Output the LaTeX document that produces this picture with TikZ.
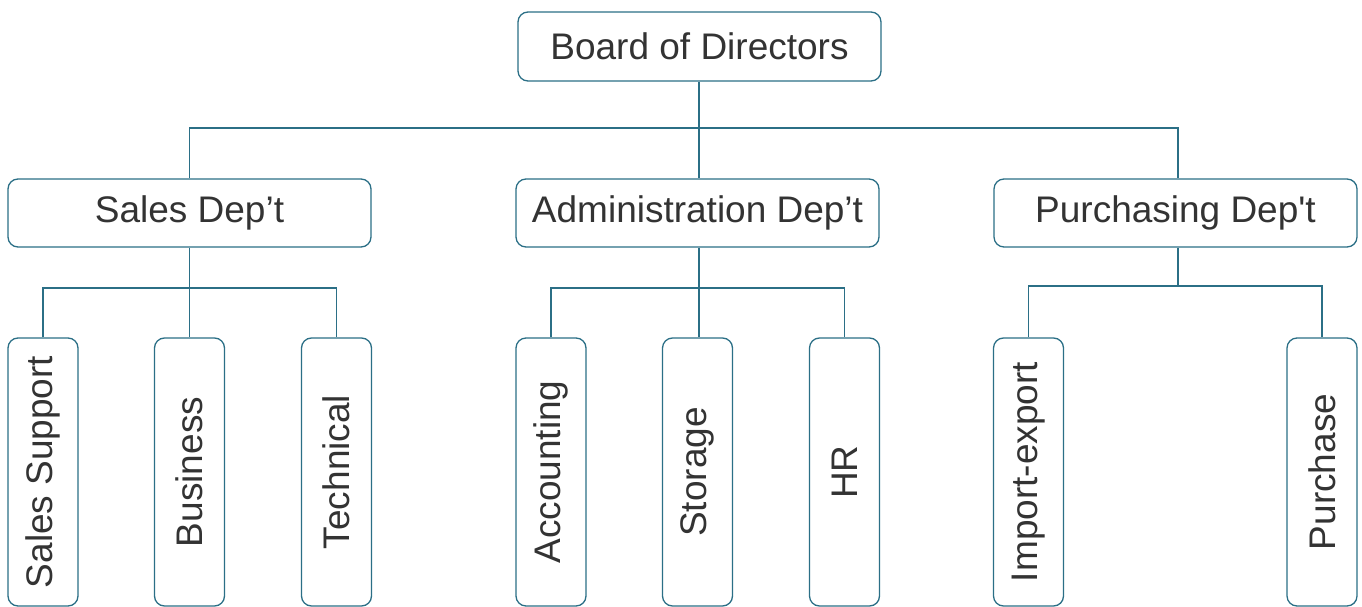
\documentclass[tikz,border=0pt]{standalone}
\usepackage{fontspec}
\setmainfont{Liberation Sans}[Ligatures=TeXOff]
\definecolor{orgline}{HTML}{2B6F86}
\definecolor{orgtext}{HTML}{333333}
\begin{document}
\begin{tikzpicture}[x=1pt,y=-1pt]
	\tikzset{org box/.style={draw=orgline,line width=1.3pt,rounded corners=10pt,fill=white,text=orgtext,
			font=\fontsize{37}{44}\selectfont,inner sep=0pt},
		dept/.style={org box,minimum width=363pt,minimum height=68pt},
		unit/.style={org box,rotate=90,minimum width=268pt,minimum height=70pt},
		link/.style={draw=orgline,line width=1.3pt}}
	\useasboundingbox (0,0) rectangle (1362,607);
	% top level
	\node [dept,minimum height=69pt] (board) at (699.5,46.5) {Board of Directors};
	\node [dept] (sales) at (189.5,213) {Sales Dep’t};
	\node [dept] (admin) at (697.5,213) {Administration Dep’t};
	\node [dept] (purch) at (1175.5,213) {Purchasing Dep't};
	% units
	\node [unit] (support) at (43,472) {Sales Support};
	\node [unit] (business) at (189.5,472) {Business};
	\node [unit] (technical) at (336.5,472) {Technical};
	\node [unit] (accounting) at (551,472) {Accounting};
	\node [unit] (storage) at (697.5,472) {Storage};
	\node [unit] (hr) at (844.5,472) {HR};
	\node [unit] (import) at (1028.5,472) {Import-export};
	\node [unit] (purchase) at (1322,472) {Purchase};
	% connectors
	\coordinate (board bus) at (699,128);
	\coordinate (sales bus) at (189.5,288);
	\coordinate (admin bus) at (699,288);
	\coordinate (purch bus) at (1178,286);
	\draw [link] (board.south -| board bus) -- (board bus |- admin.north);
	\draw [link] (sales.north) |- (board bus) -| (purch bus |- purch.north);
	\draw [link] (sales.south) -- (business.east);
	\draw [link] (support.east) |- (sales bus) -| (technical.east);
	\draw [link] (admin.south -| admin bus) -- (admin bus |- storage.east);
	\draw [link] (accounting.east) |- (admin bus) -| (hr.east);
	\draw [link] (purch bus |- purch.south) -- (purch bus);
	\draw [link] (import.east) |- (purch bus) -| (purchase.east);
\end{tikzpicture}
\end{document}
